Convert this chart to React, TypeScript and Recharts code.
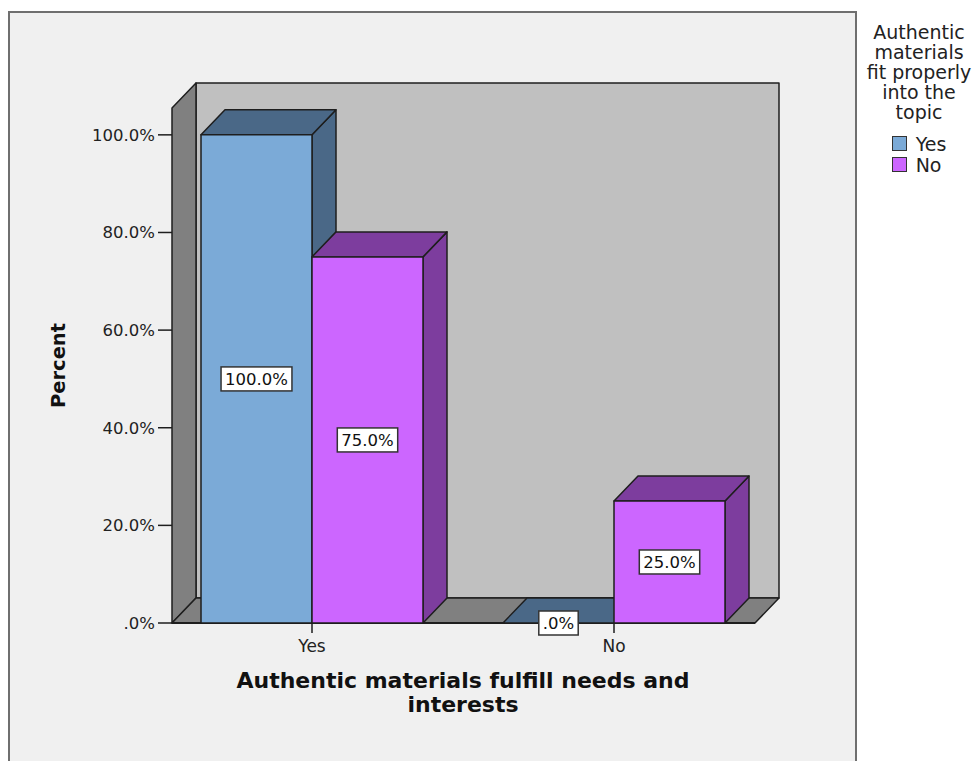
import { BarChart, Bar, XAxis, YAxis, ReferenceArea, LabelList, Legend } from 'recharts';

const categories = ['Yes', 'No'];
const yesValues = [100, 0];
const noValues = [75, 25];
const seriesNames = ['Yes', 'No'];
const yTicks = [0, 20, 40, 60, 80, 100];
const xTitleLines = ['Authentic materials fulfill needs and', 'interests'];
const yTitle = 'Percent';
const legendTitleLines = ['Authentic', 'materials', 'fit properly', 'into the', 'topic'];

const data = categories.map((cat, i) => ({ cat, yes: yesValues[i], no: noValues[i] }));

const Y_MAX = 105.5;
const DX = 24;
const DY = 25;
const INSET_L = 11;
const INSET_R = 10;
const EDGE = '#1e1e1e';
const FONT = '"DejaVu Sans", sans-serif';

const BLUE = '#7BAAD7';
const BLUE_DARK = '#4A6887';
const MAGENTA = '#CC66FF';
const MAGENTA_DARK = '#7D3D9E';

const fmt = (v: number) => v.toFixed(1).replace(/^0\./, '.') + '%';

const charW: Record<string, number> = { '.': 0.318, '%': 0.95 };
const textWidth = (s: string, size: number) =>
  s.split('').reduce((acc, c) => acc + (charW[c] ?? 0.636), 0) * size;

// back wall, left wall and floor of the 3D box
function Walls(props: any) {
  const { x, y, width, height } = props;
  const fl = x + INSET_L;
  const fr = x + width - INSET_R;
  const ft = y;
  const fb = y + height;
  return (
    <g stroke={EDGE} strokeWidth={1.5} strokeLinejoin="round">
      <rect x={fl + DX} y={ft - DY} width={fr - fl} height={fb - ft} fill="#C0C0C0" />
      <polygon points={`${fl},${ft} ${fl + DX},${ft - DY} ${fl + DX},${fb - DY} ${fl},${fb}`} fill="#808080" />
      <polygon points={`${fl},${fb} ${fl + DX},${fb - DY} ${fr + DX},${fb - DY} ${fr},${fb}`} fill="#808080" />
      <line x1={fl} y1={fb} x2={fr} y2={fb} strokeWidth={2} />
    </g>
  );
}

function makeBar3D(front: string, dark: string) {
  return (props: any) => {
    const { x, y, width: w, height: h } = props;
    if (x == null || w == null) return null;
    const top = `${x},${y} ${x + DX},${y - DY} ${x + w + DX},${y - DY} ${x + w},${y}`;
    const side = `${x + w},${y} ${x + w + DX},${y - DY} ${x + w + DX},${y + h - DY} ${x + w},${y + h}`;
    return (
      <g stroke={EDGE} strokeWidth={1.5} strokeLinejoin="round">
        {h > 0 && <polygon points={side} fill={dark} />}
        <polygon points={top} fill={dark} />
        {h > 0 && <rect x={x} y={y} width={w} height={h} fill={front} />}
      </g>
    );
  };
}

function BoxLabel(props: any) {
  const vb = props.viewBox ?? props;
  const { x, y, width, height } = vb;
  const text = fmt(Number(props.value));
  const tw = textWidth(text, 16.5);
  const cx = x + width / 2;
  const cy = y + height / 2;
  return (
    <g>
      <rect x={cx - tw / 2 - 4} y={cy - 12} width={tw + 8} height={24} fill="#fff" stroke="#333" strokeWidth={1.5} />
      <text x={cx} y={cy} dy={6} textAnchor="middle" fontFamily={FONT} fontSize={16.5} fill="#111">
        {text}
      </text>
    </g>
  );
}

function YTick(props: any) {
  const { x, y, payload } = props;
  const ax = x + INSET_L;
  return (
    <g>
      <line x1={ax - 14} y1={y} x2={ax} y2={y} stroke={EDGE} strokeWidth={1.5} />
      <text x={ax - 17} y={y} dy={6} textAnchor="end" fontFamily={FONT} fontSize={16.5} fill="#222">
        {fmt(payload.value)}
      </text>
    </g>
  );
}

function XTitle(props: any) {
  const vb = props.viewBox;
  const cx = vb.x + vb.width / 2;
  return (
    <text x={cx} y={vb.y + 65} textAnchor="middle" fontFamily={FONT} fontWeight="bold" fontSize={22} fill="#111">
      {xTitleLines.map((l, i) => (
        <tspan key={i} x={cx} dy={i === 0 ? 0 : 24}>
          {l}
        </tspan>
      ))}
    </text>
  );
}

function YTitle(props: any) {
  const vb = props.viewBox;
  const cx = vb.x + 38;
  const cy = vb.y + vb.height / 2;
  return (
    <text
      x={cx}
      y={cy}
      transform={`rotate(-90, ${cx}, ${cy})`}
      textAnchor="middle"
      dominantBaseline="central"
      fontFamily={FONT}
      fontWeight="bold"
      fontSize={19.5}
      fill="#111"
    >
      {yTitle}
    </text>
  );
}

function LegendBox(props: any) {
  const items = [...(props.payload ?? [])].sort(
    (a: any, b: any) => seriesNames.indexOf(a.value) - seriesNames.indexOf(b.value)
  );
  return (
    <div style={{ fontFamily: FONT, fontSize: 19, lineHeight: '20px', color: '#222', textAlign: 'center', whiteSpace: 'nowrap' }}>
      {legendTitleLines.map((l) => (
        <div key={l}>{l}</div>
      ))}
      <div style={{ display: 'inline-block', textAlign: 'left', marginTop: 11 }}>
        {items.map((it: any) => (
          <div key={it.value} style={{ display: 'flex', alignItems: 'center', height: 21 }}>
            <span
              style={{
                display: 'inline-block',
                width: 13,
                height: 13,
                background: it.color,
                border: '1px solid #333',
                marginRight: 9,
              }}
            />
            {it.value}
          </div>
        ))}
      </div>
    </div>
  );
}

export default function App() {
  return (
    <div style={{ position: 'absolute', left: 0, top: 0, width: 976, height: 761, overflow: 'hidden', background: '#fff' }}>
      <div
        style={{
          position: 'absolute',
          left: 8,
          top: 11,
          width: 849,
          height: 760,
          border: '2px solid #6f6f6f',
          background: '#F0F0F0',
          boxSizing: 'border-box',
        }}
      />
      <div style={{ position: 'absolute', left: 0, top: 0 }}>
        <BarChart
          width={976}
          height={761}
          data={data}
          margin={{ top: 108, right: 97, bottom: 38, left: 20 }}
          barCategoryGap={40}
          barGap={0}
        >
          <ReferenceArea y1={0} y2={Y_MAX} shape={Walls} ifOverflow="visible" zIndex={-50} />
          <XAxis
            dataKey="cat"
            height={100}
            axisLine={false}
            tickSize={10}
            tickMargin={7}
            tickLine={{ stroke: EDGE, strokeWidth: 1.5 }}
            tick={{ fill: '#222', fontSize: 17, fontFamily: FONT }}
            label={<XTitle />}
          />
          <YAxis
            width={141}
            domain={[0, Y_MAX]}
            ticks={yTicks}
            interval={0}
            axisLine={false}
            tickLine={false}
            tickSize={0}
            tickMargin={0}
            tick={YTick}
            label={<YTitle />}
          />
          <Legend
            layout="vertical"
            verticalAlign="top"
            align="right"
            wrapperStyle={{ left: 862, top: 22, width: 114 }}
            content={LegendBox}
          />
          <Bar dataKey="yes" name={seriesNames[0]} fill={BLUE} shape={makeBar3D(BLUE, BLUE_DARK)} isAnimationActive={false}>
            <LabelList dataKey="yes" content={BoxLabel} />
          </Bar>
          <Bar dataKey="no" name={seriesNames[1]} fill={MAGENTA} shape={makeBar3D(MAGENTA, MAGENTA_DARK)} isAnimationActive={false}>
            <LabelList dataKey="no" content={BoxLabel} />
          </Bar>
        </BarChart>
      </div>
    </div>
  );
}
